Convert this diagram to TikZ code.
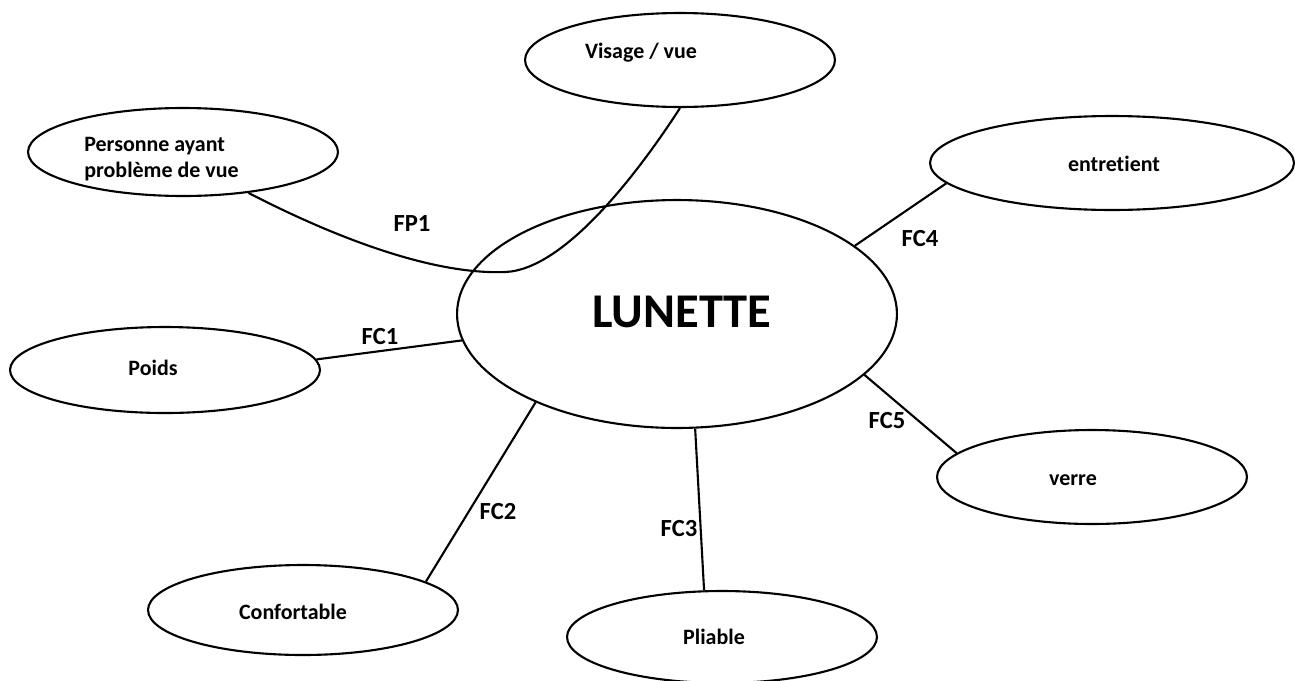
\documentclass[tikz,border=0pt]{standalone}
\usepackage{fontspec}
\setmainfont{Carlito}[Ligatures=NoCommon]
\usetikzlibrary{shapes.geometric}
\begin{document}
\begin{tikzpicture}[x=0.02cm,y=-0.02cm,
  bub/.style={draw,ellipse,line width=1.2pt,inner sep=0pt},
  txt/.style={font=\bfseries\fontsize{12.5}{15}\selectfont,inner sep=0pt},
  lab/.style={font=\bfseries\fontsize{14}{16}\selectfont,inner sep=0pt},
  conn/.style={line width=1.2pt}]
\useasboundingbox (0,0) rectangle (1295,680);
% ellipses
\node[bub,minimum width=6.2cm,minimum height=1.88cm] (vis) at (680,60) {};
\node[bub,minimum width=6.2cm,minimum height=1.76cm] (per) at (183,152) {};
\node[bub,minimum width=7.28cm,minimum height=1.88cm] (ent) at (1112,163) {};
\node[bub,minimum width=8.8cm,minimum height=4.56cm] (lun) at (677,314) {};
\node[bub,minimum width=6.2cm,minimum height=1.72cm] (poi) at (165,370) {};
\node[bub,minimum width=6.2cm,minimum height=1.88cm] (ver) at (1092,477) {};
\node[bub,minimum width=6.2cm,minimum height=1.8cm] (con) at (303,610) {};
\node[bub,minimum width=6.2cm,minimum height=1.84cm] (pli) at (722,637) {};
% texts
\node[txt] (tvis) at (641,53) {Visage / vue};
\node[txt,align=left,anchor=west] (tper) at (84,159) {Personne ayant\\problème de vue};
\node[txt] (tent) at (1114,164) {entret\kern0pt ient};
\node[font=\bfseries\fontsize{27.6}{30}\selectfont,inner sep=0pt] (tlun) at (682,312) {LUNETTE};
\node[txt] (tpoi) at (153,368) {Poids};
\node[txt] (tver) at (1073,480) {verre};
\node[txt] (tcon) at (293,612) {Confortable};
\node[txt] (tpli) at (714,637) {Pliable};
% connectors
\draw[conn] (per.328) .. controls (330,235) and (430,275) .. (505,272)
  .. controls (565,270) and (640,170) .. (vis.south);
\draw[conn] (poi.4) -- (lun.187);
\draw[conn] (con.13) -- (lun.212);
\draw[conn] (pli.111) -- (lun.279);
\draw[conn] (ent.187) -- (lun.21);
\draw[conn] (ver.170) -- (lun.342);
% labels
\node[lab] (lfp1) at (412,224) {FP1};
\node[lab] (lfc1) at (380,337) {FC1};
\node[lab] (lfc2) at (498,512) {FC2};
\node[lab] (lfc3) at (679,529) {FC3};
\node[lab] (lfc4) at (920,239) {FC4};
\node[lab] (lfc5) at (887,421) {FC5};
\end{tikzpicture}
\end{document}
